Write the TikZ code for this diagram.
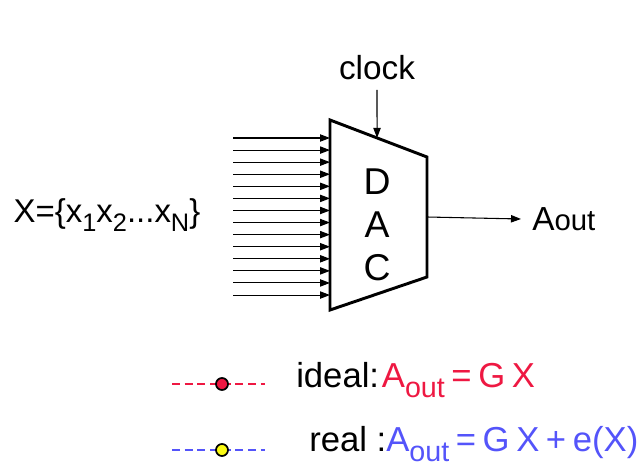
\documentclass[tikz,border=0pt]{standalone}
\usepackage{fontspec}
\setmainfont{Liberation Sans}
\usepackage{xcolor}
\usetikzlibrary{arrows.meta,positioning,calc}
\definecolor{idealred}{RGB}{238, 24, 66}
\definecolor{realblue}{RGB}{84, 84, 250}
\definecolor{dotyellow}{RGB}{250, 250, 20}
\newcommand{\lowtxt}[2][21.5]{\raisebox{-0.28em}{\fontsize{#1}{22}\selectfont #2}}
\newcommand{\gap}{\hspace{0.19em}}

\begin{document}
\begin{tikzpicture}[x=0.75pt, y=-0.75pt,
    bit/.style={line width=0.8pt, -{Triangle[length=7.5pt, width=5.5pt]}},
    sig/.style={line width=0.8pt, -{Triangle[length=7.5pt, width=5.5pt]}},
    label/.style={inner sep=0pt, font=\fontsize{26}{28}\selectfont},
    dot/.style={draw=black, circle, line width=1.3pt, inner sep=0pt, minimum size=9pt},
    legline/.style={line width=1.4pt, dash pattern=on 6pt off 3.5pt}]
    \useasboundingbox (0,0) rectangle (641,466);

    % DAC block (trapezoid)
    \coordinate (tl) at (330,120);
    \coordinate (bl) at (330,310);
    \coordinate (tr) at (427,157);
    \coordinate (br) at (427,277);
    \draw[line width=2.2pt, line join=miter] (tl) -- (tr) -- (br) -- (bl) -- cycle;
    \node[label, font=\fontsize{28}{30}\selectfont] (dacD) at (377,182) {D};
    \node[label, font=\fontsize{28}{30}\selectfont] (dacA) at (377,225) {A};
    \node[label, font=\fontsize{28}{30}\selectfont] (dacC) at (377,268) {C};

    % clock input
    \node[label, font=\fontsize{25}{27}\selectfont] (clk) at (377,68) {clock};
    \coordinate (clkin) at ($(tl)!0.485!(tr)$);
    \draw[sig] (clk.south |- 0,90) -- (clkin);

    % digital word, N parallel bits
    \node[label, font=\fontsize{24.7}{27}\selectfont] (word) at (107,215)
        {X=\{x\lowtxt[19]{1}x\lowtxt[19]{2}...x\lowtxt[19]{N}\}};
    \foreach \i in {0,...,13} {
        \coordinate (b\i) at (233,{138+12.08*\i});
        \draw[bit] (b\i) -- (b\i -| tl);
    }

    % analog output
    \coordinate (out) at (427,217);
    \node[label, anchor=west, font=\fontsize{25}{27}\selectfont] (aout) at (532,219)
        {A{\fontsize{22}{24}\selectfont out}};
    \draw[sig] (out) -- (aout.west -| 521,0);

    % legend
    \coordinate (ls1) at (172,384);
    \coordinate (le1) at (265,384);
    \draw[legline, idealred] (ls1) -- (le1);
    \node[dot, fill=idealred] (d1) at (222,384) {};
    \node[label, anchor=west] (ideal) at (296,380)
        {ideal:\hspace{0.08em}\textcolor{idealred}{A\lowtxt{out}\gap=\gap G\gap X}};

    \coordinate (ls2) at (172,450);
    \coordinate (le2) at (265,450);
    \draw[legline, realblue] (ls2) -- (le2);
    \node[dot, fill=dotyellow] (d2) at (222,450) {};
    \node[label, anchor=west] (real) at (309,444)
        {real :\textcolor{realblue}{A\lowtxt{out}\gap=\gap G\gap X\gap+\gap e(X)}};
\end{tikzpicture}
\end{document}
